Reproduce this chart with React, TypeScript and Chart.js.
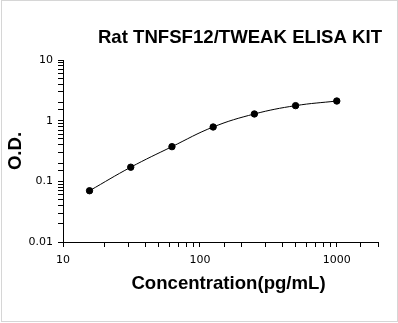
import React, { useEffect, useRef } from "react";
import { Chart, registerables } from "chart.js";

Chart.register(...registerables);

const concentrations = [15.625, 31.25, 62.5, 125, 250, 500, 1000];
const odValues = [0.07, 0.171, 0.373, 0.787, 1.29, 1.77, 2.11];
const xTickLabels = [10, 100, 1000];
const yTickLabels = [0.01, 0.1, 1, 10];
const chartTitle = "Rat TNFSF12/TWEAK ELISA KIT";
const xTitle = "Concentration(pg/mL)";
const yTitle = "O.D.";

const titleFontSize = 18.6;

const xTitlePlugin = {
  id: "xTitlePlugin",
  afterDraw(chart: any) {
    const { ctx, chartArea } = chart;
    ctx.save();
    ctx.font = `bold ${titleFontSize}px 'Liberation Sans', Arial, sans-serif`;
    ctx.fillStyle = "#000";
    ctx.textAlign = "center";
    ctx.textBaseline = "middle";
    ctx.fillText(xTitle, (chartArea.left + chartArea.right) / 2 + 8, 284);
    ctx.restore();
  },
};

function fmt(list: number[]) {
  return (v: any) => {
    const n = Number(v);
    for (const t of list) {
      if (Math.abs(n - t) / t < 1e-6) return String(t);
    }
    return "";
  };
}

export default function App() {
  const ref = useRef<HTMLCanvasElement>(null);
  useEffect(() => {
    if (!ref.current) return;
    const tickFont = { family: "'DejaVu Sans', sans-serif", size: 11 };
    const boldFont = { family: "'Liberation Sans', Arial, sans-serif", size: titleFontSize, weight: "bold" };
    const chart = new Chart(ref.current, {
      type: "scatter",
      data: {
        datasets: [
          {
            data: concentrations.map((x, i) => ({ x, y: odValues[i] })),
            showLine: true,
            tension: 0.4,
            borderColor: "#000",
            borderWidth: 1,
            backgroundColor: "#000",
            pointBackgroundColor: "#000",
            pointBorderColor: "#000",
            pointRadius: 3.2,
          },
        ],
      },
      options: {
        responsive: false,
        animation: false,
        devicePixelRatio: 1,
        layout: { padding: { left: 1, right: 16, top: 0, bottom: 0 } },
        plugins: {
          legend: { display: false },
          tooltip: { enabled: false },
          title: {
            display: true,
            text: chartTitle,
            align: "end",
            color: "#000",
            font: boldFont,
            padding: { top: 26.3, bottom: 11.4 },
          },
        },
        scales: {
          x: {
            type: "logarithmic",
            min: 10,
            max: 2000,
            border: { display: true, color: "#000", width: 1 },
            grid: { drawOnChartArea: false, drawTicks: true, tickLength: 5, color: "#000" },
            ticks: {
              autoSkip: false,
              maxRotation: 0,
              padding: 7,
              color: "#000",
              font: tickFont,
              callback: fmt(xTickLabels),
            },
            afterFit: (s: any) => {
              s.height = 81;
            },
          },
          y: {
            type: "logarithmic",
            min: 0.01,
            max: 10,
            border: { display: true, color: "#000", width: 1 },
            grid: { drawOnChartArea: false, drawTicks: true, tickLength: 5, color: "#000" },
            ticks: {
              autoSkip: false,
              padding: 5,
              color: "#000",
              font: tickFont,
              callback: fmt(yTickLabels),
            },
            title: {
              display: true,
              text: yTitle,
              color: "#000",
              font: boldFont,
              padding: { top: 3.8, bottom: 0 },
            },
            afterFit: (s: any) => {
              s.width = 62;
            },
          },
          yRight: {
            type: "linear",
            position: "right",
            display: true,
            border: { display: false },
            grid: { display: false, drawTicks: false },
            ticks: { display: false },
            afterFit: (s: any) => {
              s.width = 4;
            },
          },
        },
      },
      plugins: [xTitlePlugin],
    } as any);
    return () => chart.destroy();
  }, []);
  return (
    <div style={{ position: "fixed", left: 0, top: 0, width: 398, height: 323, background: "#fff" }}>
      <canvas ref={ref} width={398} height={323} style={{ display: "block" }} />
      <div
        style={{
          position: "absolute",
          left: 1,
          top: 0,
          width: 397,
          height: 322,
          boxSizing: "border-box",
          border: "1px solid #d6d6d6",
          pointerEvents: "none",
        }}
      />
    </div>
  );
}
